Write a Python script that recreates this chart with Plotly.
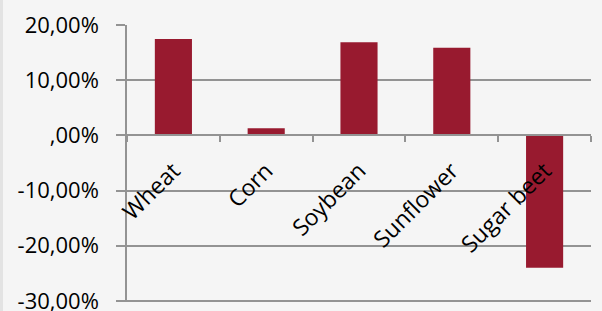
import plotly.graph_objects as go

categories = ["Wheat", "Corn", "Soybean", "Sunflower", "Sugar beet"]
values = [17.5, 1.3, 16.9, 15.9, -24.0]
tick_vals = [-30, -20, -10, 0, 10, 20]
tick_text = ["-30,00%", "-20,00%", "-10,00%", ",00%", "10,00%", "20,00%"]

BAR = "#981A2F"
GRID = "#939393"
FONT = "Open Sans"
Y_RANGE = [-30.2, 20.02]

fig = go.Figure(go.Bar(x=categories, y=values, marker=dict(color=BAR, line=dict(width=0))))

fig.update_layout(
    width=602, height=311,
    margin=dict(l=127, r=11, t=25, b=9),
    paper_bgcolor="#f5f5f5", plot_bgcolor="#f5f5f5",
    bargap=0.6, showlegend=False,
    font=dict(family=FONT, size=22, color="#000000"),
)
zero_pos = (0 - Y_RANGE[0]) / (Y_RANGE[1] - Y_RANGE[0])
fig.update_xaxes(
    type="category", anchor="free", position=zero_pos, automargin=False,
    showline=True, linecolor=GRID, linewidth=1.5,
    ticks="outside", tickson="boundaries", ticklen=6, tickcolor=GRID, tickwidth=1.5,
    showgrid=False, tickangle=-45, tickfont=dict(family=FONT, size=23),
    ticklabelstandoff=12,
)
fig.update_yaxes(
    range=Y_RANGE, tickvals=tick_vals, ticktext=tick_text, automargin=False,
    showline=True, linecolor=GRID, linewidth=1.5,
    showgrid=True, gridcolor=GRID, gridwidth=1.5, zeroline=False,
    ticks="outside", ticklen=9, tickcolor=GRID, tickwidth=1.5,
    tickfont=dict(family=FONT, size=22), ticklabelstandoff=13,
    ticklabeloverflow="allow",
)
fig.add_shape(type="rect", xref="paper", yref="paper",
              x0=-127/464, x1=-124/464, y0=-0.1, y1=1.2,
              fillcolor="#e3e3e3", line=dict(width=0), layer="below")
fig.write_html("out.html", config={"displayModeBar": False},
               post_script="document.body.style.margin='0';document.body.style.background='#f5f5f5';")
